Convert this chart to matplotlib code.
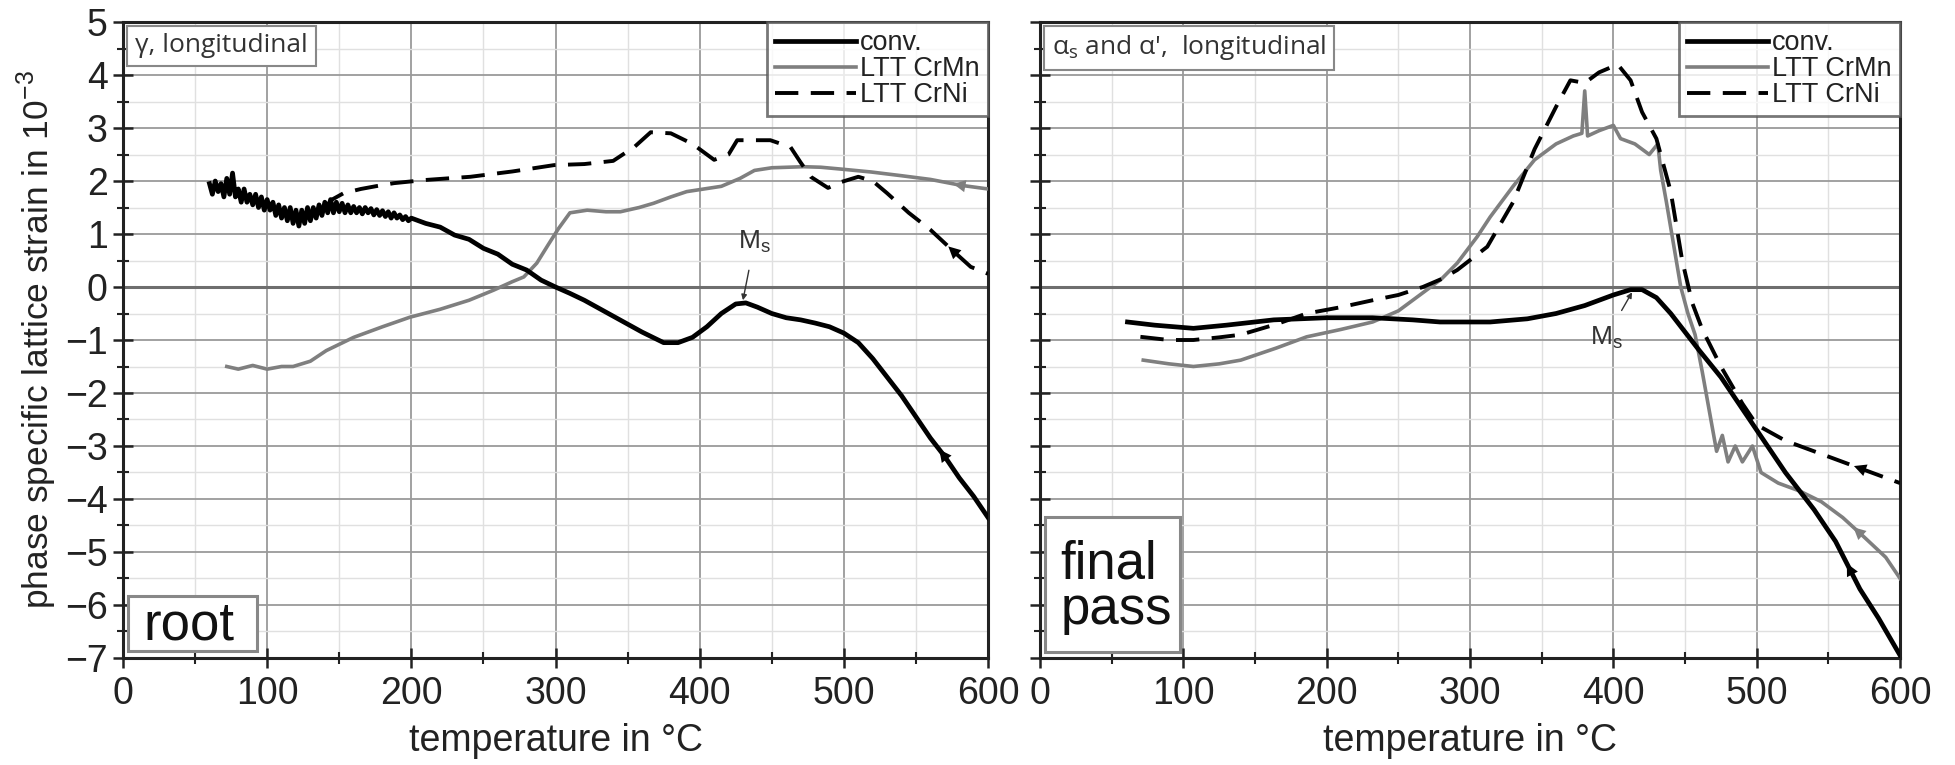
import numpy as np
import matplotlib
matplotlib.use("Agg")
import matplotlib.pyplot as plt
from matplotlib.ticker import MultipleLocator
from matplotlib.patches import Rectangle

plt.rcParams['font.family'] = ['Liberation Sans', 'DejaVu Sans']
plt.rcParams['mathtext.fontset'] = 'custom'
plt.rcParams['mathtext.rm'] = 'Liberation Sans'

# ---- root (gamma, longitudinal) ----
root_conv_T = [60, 62, 64, 66, 68, 70, 72, 74, 76, 78, 80, 82, 84, 86, 88, 90, 92, 94, 96, 98,
               100, 102, 104, 106, 108, 110, 112, 114, 116, 118, 120, 122, 124, 126, 128, 130,
               132, 134, 136, 138, 140, 142, 144, 146, 148, 150, 152, 154, 156, 158, 160, 162,
               164, 166, 168, 170, 172, 174, 176, 178, 180, 182, 184, 186, 188, 190, 192, 194,
               196, 198, 200, 210, 220, 230, 240, 250, 260, 270, 280, 290,
               300, 310, 320, 340, 360, 375, 385, 395, 405, 415, 425, 432, 440, 450, 460, 470,
               480, 490, 500, 510, 520, 530, 540, 550, 560, 570, 580, 590, 600]
root_conv_v = [1.95, 1.75, 2.0, 1.8, 1.95, 1.7, 2.05, 1.75, 2.15, 1.7, 1.85, 1.6, 1.85, 1.6,
               1.75, 1.55, 1.75, 1.5, 1.7, 1.45, 1.65, 1.45, 1.6, 1.35, 1.55, 1.3, 1.5, 1.25,
               1.5, 1.2, 1.45, 1.15, 1.45, 1.2, 1.5, 1.25, 1.5, 1.3, 1.55, 1.35, 1.6, 1.4, 1.65,
               1.4, 1.6, 1.42, 1.58, 1.4, 1.55, 1.4, 1.52, 1.4, 1.5, 1.38, 1.5, 1.4, 1.48, 1.36,
               1.46, 1.35, 1.44, 1.33, 1.42, 1.3, 1.4, 1.3, 1.36, 1.27, 1.33, 1.25, 1.3,
               1.2, 1.13, 0.98, 0.9, 0.73, 0.62, 0.43, 0.32, 0.13,
               0.0, -0.12, -0.25, -0.55, -0.85, -1.05, -1.05, -0.95, -0.75, -0.5, -0.32, -0.3,
               -0.38, -0.5, -0.58, -0.62, -0.68, -0.75, -0.87, -1.05, -1.35, -1.7, -2.05, -2.45,
               -2.85, -3.2, -3.6, -3.95, -4.35]

root_crmn_T = [72, 80, 90, 100, 110, 118, 130, 141, 160, 180, 199, 220, 240, 257, 270, 278, 287,
               295, 302, 310, 322, 335, 345, 358, 368, 380, 391, 403, 415, 428, 438, 450, 461,
               472, 484, 500, 519, 540, 560, 581, 600]
root_crmn_v = [-1.5, -1.55, -1.48, -1.55, -1.5, -1.5, -1.4, -1.2, -0.95, -0.75, -0.57, -0.42,
               -0.25, -0.06, 0.1, 0.19, 0.45, 0.8, 1.1, 1.4, 1.45, 1.42, 1.42, 1.5, 1.58, 1.7,
               1.8, 1.85, 1.9, 2.05, 2.2, 2.25, 2.26, 2.27, 2.26, 2.22, 2.17, 2.1, 2.03, 1.92,
               1.85]

root_crni_T = [140, 145, 153, 165, 175, 188, 210, 241, 270, 299, 320, 340, 355, 366, 380, 395,
               410, 420, 426, 449, 463, 470, 477, 489, 498, 510, 520, 530, 545, 560, 575, 588,
               600]
root_crni_v = [1.5, 1.65, 1.77, 1.85, 1.9, 1.96, 2.02, 2.08, 2.18, 2.3, 2.32, 2.38, 2.65, 2.92,
               2.9, 2.7, 2.4, 2.5, 2.77, 2.77, 2.64, 2.35, 2.08, 1.87, 1.98, 2.08, 2.0, 1.77, 1.4,
               1.08, 0.7, 0.38, 0.25]

# ---- final pass (alpha_s and alpha', longitudinal) ----
fin_conv_T = [61, 80, 107, 130, 163, 200, 232, 260, 279, 314, 340, 360, 380, 400, 412, 420, 430,
              440, 450, 460, 475, 490, 500, 520, 540, 555, 572, 585, 600]
fin_conv_v = [-0.66, -0.72, -0.78, -0.72, -0.62, -0.58, -0.58, -0.62, -0.66, -0.66, -0.6, -0.5,
              -0.35, -0.15, -0.05, -0.05, -0.2, -0.5, -0.85, -1.2, -1.7, -2.3, -2.7, -3.5, -4.2,
              -4.8, -5.7, -6.25, -6.95]

fin_crmn_T = [72, 90, 107, 125, 140, 165, 186, 210, 232, 250, 267, 280, 291, 305, 314, 330, 345,
              360, 372, 378, 380, 382, 390, 400, 405, 415, 425, 431, 433, 437, 442, 447, 452,
              457, 462, 468, 472, 476, 480, 485, 490, 497, 503, 515, 530, 545, 560, 575, 590,
              600]
fin_crmn_v = [-1.38, -1.45, -1.5, -1.45, -1.38, -1.15, -0.94, -0.8, -0.66, -0.45, -0.11, 0.15,
              0.45, 0.95, 1.32, 1.9, 2.4, 2.7, 2.85, 2.9, 3.7, 2.85, 2.95, 3.05, 2.8, 2.7, 2.5,
              2.7, 2.2, 1.6, 0.8, 0.0, -0.5, -0.9, -1.6, -2.5, -3.1, -2.8, -3.3, -3.0, -3.3,
              -3.0, -3.5, -3.7, -3.85, -4.05, -4.35, -4.72, -5.1, -5.5]

fin_crni_T = [70, 90, 107, 125, 140, 165, 186, 210, 232, 250, 267, 280, 291, 312, 330, 345, 360,
              370, 380, 390, 403, 412, 420, 430, 440, 448, 455, 462, 475, 490, 500, 520, 540,
              560, 580, 600]
fin_crni_v = [-0.94, -1.0, -1.0, -0.95, -0.9, -0.7, -0.5, -0.38, -0.25, -0.15, 0.0, 0.15, 0.32,
              0.76, 1.6, 2.6, 3.4, 3.9, 3.85, 4.05, 4.2, 3.9, 3.3, 2.8, 1.8, 0.5, -0.3, -0.8,
              -1.5, -2.2, -2.6, -2.9, -3.1, -3.3, -3.5, -3.7]

# direction markers (temperature where an arrowhead sits on each curve)
root_arrow_T = {'conv': 571, 'crmn': 580, 'crni': 577}
fin_arrow_T = {'conv': 568, 'crmn': 572, 'crni': 572}

series_names = ['conv.', 'LTT CrMn', 'LTT CrNi']
GRAY = '#7f7f7f'
TXT = '#222222'


def add_arrow(ax, T, v, t0, color):
    # arrowhead pointing toward lower temperature (cooling)
    y0 = np.interp(t0, T, v)
    y1 = np.interp(t0 - 6, T, v)
    ax.annotate('', xy=(t0 - 6, y1), xytext=(t0, y0),
                arrowprops=dict(arrowstyle='-|>', mutation_scale=22, color=color, lw=0))


def style_axes(ax, show_ylabels):
    ax.set_xlim(0, 600)
    ax.set_ylim(-7, 5)
    ax.xaxis.set_major_locator(MultipleLocator(100))
    ax.xaxis.set_minor_locator(MultipleLocator(50))
    ax.yaxis.set_major_locator(MultipleLocator(1))
    ax.yaxis.set_minor_locator(MultipleLocator(0.5))
    ax.grid(which='major', color='#9a9a9a', lw=1.3)
    ax.grid(which='minor', color='#e0e0e0', lw=1.0)
    ax.axhline(0, color='#6e6e6e', lw=2.2, zorder=1)
    ax.set_axisbelow(True)
    for s in ax.spines.values():
        s.set_linewidth(2.2)
        s.set_color(TXT)
    ax.tick_params(which='major', direction='inout', length=14, width=1.8, labelsize=27,
                   colors=TXT)
    ax.tick_params(which='minor', direction='inout', length=8, width=1.5, colors=TXT)
    ax.tick_params(axis='x', which='major', pad=6)
    ax.tick_params(axis='y', which='major', pad=4)
    if not show_ylabels:
        ax.tick_params(axis='y', labelleft=False)
    ax.set_xlabel('temperature in °C', fontsize=27, color=TXT, labelpad=8)


fig = plt.figure(figsize=(19.55, 7.65), dpi=100)
ax1 = fig.add_axes([0.0629, 0.1399, 0.4425, 0.8313])
ax2 = fig.add_axes([0.532, 0.1399, 0.4399, 0.8313])

panels = [
    (ax1, (root_conv_T, root_conv_v), (root_crmn_T, root_crmn_v), (root_crni_T, root_crni_v),
     root_arrow_T, 'γ, longitudinal', 'root', (0.006, 0.011, 0.149, 0.087)),
    (ax2, (fin_conv_T, fin_conv_v), (fin_crmn_T, fin_crmn_v), (fin_crni_T, fin_crni_v),
     fin_arrow_T, r"α$_\mathregular{s}$ and α',  longitudinal", 'final\npass',
     (0.006, 0.009, 0.157, 0.213)),
]

for i, (ax, conv, crmn, crni, arr, tag, name, box) in enumerate(panels):
    style_axes(ax, i == 0)
    ax.plot(*conv, color='black', lw=3.4, label=series_names[0], zorder=4)
    ax.plot(*crmn, color=GRAY, lw=2.6, label=series_names[1], zorder=3)
    ax.plot(*crni, color='black', lw=2.8, ls=(0, (6, 3.2)), label=series_names[2], zorder=3)
    add_arrow(ax, *conv, arr['conv'], 'black')
    add_arrow(ax, *crmn, arr['crmn'], GRAY)
    add_arrow(ax, *crni, arr['crni'], 'black')

    leg = ax.legend(loc='upper right', fontsize=19.5, frameon=True, fancybox=False,
                    handlelength=3.0, handletextpad=0.15, labelspacing=0.0,
                    borderpad=0.3, borderaxespad=0.0, edgecolor='#555555')
    leg.get_frame().set_linewidth(2.0)
    for t in leg.get_texts():
        t.set_color(TXT)

    ax.text(0.014, 0.982, tag, transform=ax.transAxes, ha='left', va='top', fontsize=19,
            family=['Open Sans', 'DejaVu Sans'], color='#333333',
            zorder=6, bbox=dict(boxstyle='square,pad=0.3', fc='white', ec='#888888', lw=1.5))

    # sample name in a framed box at lower left
    ax.add_patch(Rectangle((box[0], box[1]), box[2], box[3], transform=ax.transAxes,
                           fc='white', ec='#888888', lw=2.2, zorder=6))
    ax.text(box[0] + 0.018, box[1] + box[3] / 2 - 0.004, name, transform=ax.transAxes,
            ha='left', va='center', fontsize=38, color='#111111', linespacing=0.88, zorder=7)

ax1.set_ylabel(r'phase specific lattice strain in 10$^{\mathregular{-3}}$', fontsize=25.5,
               color=TXT, labelpad=4)

# M_s annotations
ax1.annotate(r'M$_\mathregular{s}$', xy=(430, -0.25), xytext=(438, 0.85), fontsize=19,
             color='#333333', ha='center', va='center',
             arrowprops=dict(arrowstyle='-|>', color='#333333', lw=1.0, mutation_scale=8,
                             shrinkA=9, shrinkB=0))
ax2.annotate(r'M$_\mathregular{s}$', xy=(413, -0.1), xytext=(395, -0.95), fontsize=19,
             color='#333333', ha='center', va='center',
             arrowprops=dict(arrowstyle='-|>', color='#333333', lw=1.0, mutation_scale=8,
                             shrinkA=9, shrinkB=0))

fig.savefig('out.png', dpi=100, facecolor='white')
